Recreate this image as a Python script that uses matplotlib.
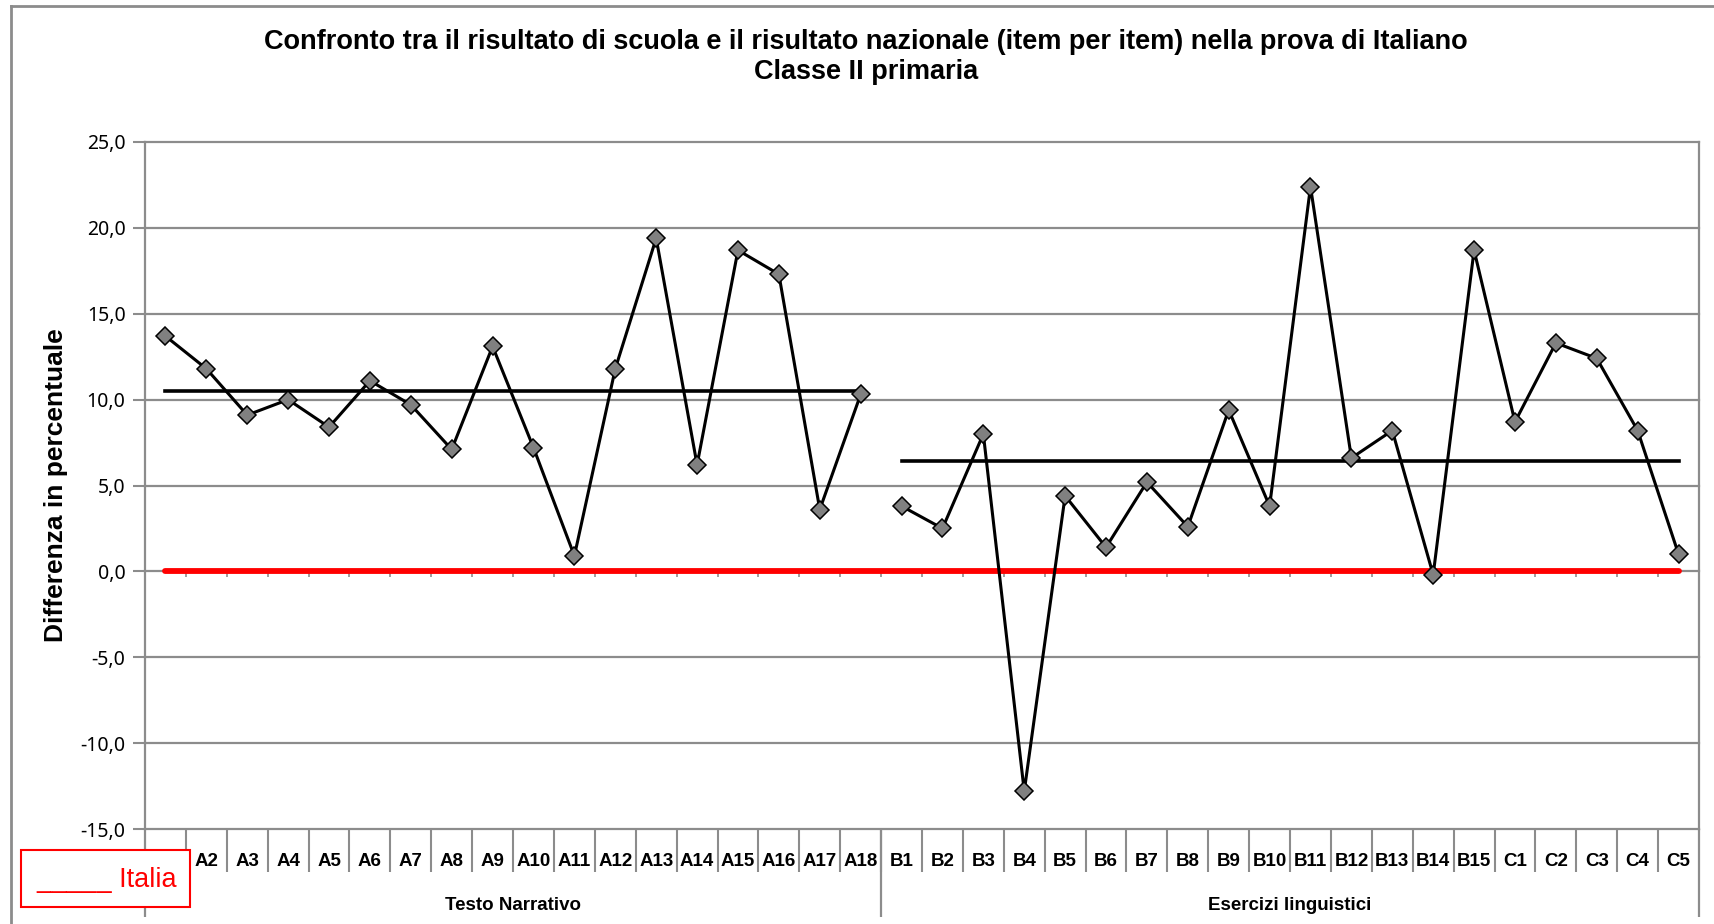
import matplotlib
matplotlib.use("Agg")
import matplotlib.pyplot as plt
from matplotlib.lines import Line2D
from matplotlib.patches import Rectangle
from matplotlib.ticker import FuncFormatter

# ─── DATA ─────────────────────────────────────────────────────────────────────
ITEMS_A = ["A1", "A2", "A3", "A4", "A5", "A6", "A7", "A8", "A9", "A10",
           "A11", "A12", "A13", "A14", "A15", "A16", "A17", "A18"]
ITEMS_B = ["B1", "B2", "B3", "B4", "B5", "B6", "B7", "B8", "B9", "B10",
           "B11", "B12", "B13", "B14", "B15", "C1", "C2", "C3", "C4", "C5"]
GROUPS = ["Testo Narrativo", "Esercizi linguistici"]

scuola_a = [13.7, 11.8, 9.1, 10.0, 8.4, 11.1, 9.7, 7.1, 13.1, 7.2,
            0.9, 11.8, 19.4, 6.2, 18.7, 17.3, 3.6, 10.3]
scuola_b = [3.8, 2.5, 8.0, -12.8, 4.4, 1.4, 5.2, 2.6, 9.4, 3.8,
            22.4, 6.6, 8.2, -0.2, 18.7, 8.7, 13.3, 12.4, 8.2, 1.0]
media_a = 10.5   # media sezione Testo Narrativo
media_b = 6.4    # media sezione Esercizi linguistici
italia = [0.0] * (len(ITEMS_A) + len(ITEMS_B))

TITLE = ("Confronto tra il risultato di scuola e il risultato nazionale "
         "(item per item) nella prova di Italiano\nClasse II primaria")
YLABEL = "Differenza in percentuale"
Y_TICKS = [-15, -10, -5, 0, 5, 10, 15, 20, 25]
# ──────────────────────────────────────────────────────────────────────────────

W, H = 1715, 924
GRAY = "#8c8c8c"
NARROW = ["Liberation Sans Narrow", "Liberation Sans", "DejaVu Sans"]

fig = plt.figure(figsize=(W / 100, H / 100), dpi=100)
left, right, top, bottom = 145, 1699, 142, 829
ax = fig.add_axes([left / W, 1 - bottom / H, (right - left) / W, (bottom - top) / H])

items = ITEMS_A + ITEMS_B
n_a = len(ITEMS_A)
x_all = list(range(len(items)))
x_a = x_all[:n_a]
x_b = x_all[n_a:]

# grid lines
for yv in Y_TICKS:
    ax.axhline(yv, color=GRAY, lw=1.6, zorder=1, clip_on=False)

# Italia reference (red) and section means
ax.plot(x_all, italia, color="red", lw=4.2, solid_capstyle="round", zorder=3)
ax.plot([x_a[0], x_a[-1]], [media_a, media_a], color="black", lw=2.6, zorder=3)
ax.plot([x_b[0], x_b[-1]], [media_b, media_b], color="black", lw=2.6, zorder=3)

# school results
for xs, ys in ((x_a, scuola_a), (x_b, scuola_b)):
    ax.plot(xs, ys, color="black", lw=2.2, marker="D", ms=9,
            mfc="#808080", mec="black", mew=1.1, zorder=4)

ax.set_xlim(-0.5, len(items) - 0.5)
ax.set_ylim(-15, 25)
ax.set_yticks(Y_TICKS)
ax.yaxis.set_major_formatter(FuncFormatter(lambda v, _: f"{v:.1f}".replace(".", ",")))
ax.tick_params(axis="y", direction="out", length=9, width=1.5, color=GRAY,
               pad=5, labelsize=14)
for lab in ax.get_yticklabels():
    lab.set_family(["Noto Sans", "DejaVu Sans"])
ax.set_xticks([])
for side in ("top", "bottom"):
    ax.spines[side].set_visible(False)
for side in ("left", "right"):
    ax.spines[side].set_color(GRAY)
    ax.spines[side].set_linewidth(1.6)

ax.set_ylabel(YLABEL, fontsize=19, fontweight="bold", family="Liberation Sans")
ax.yaxis.set_label_coords(-(left - 68) / (right - left), 0.5)

# small ticks on the zero line between categories
bounds = [i + 0.5 for i in range(len(items) - 1)]
ax.vlines(bounds, -0.3, 0, color=GRAY, lw=1.2, zorder=2)

# category labels and dividers below the plot
axh = bottom - top
xt = ax.get_xaxis_transform()
for i, name in enumerate(items):
    ax.text(i, -32 / axh, name, transform=xt, ha="center", va="center",
            fontsize=13.5, fontweight="bold", family=NARROW, clip_on=False)
ax.vlines(bounds, -43 / axh, 0, transform=xt, color=GRAY, lw=1.5, clip_on=False)
ax.vlines([-0.5, n_a - 0.5, len(items) - 0.5], -88 / axh, 0, transform=xt,
          color=GRAY, lw=1.6, clip_on=False)
ax.text((n_a - 1) / 2, -76 / axh, GROUPS[0], transform=xt, ha="center", va="center",
        fontsize=13.5, fontweight="bold", family=NARROW, clip_on=False)
ax.text(n_a + (len(ITEMS_B) - 1) / 2, -76 / axh, GROUPS[1], transform=xt,
        ha="center", va="center", fontsize=13.5, fontweight="bold",
        family=NARROW, clip_on=False)

# title
fig.text(866 / W, 1 - 57 / H, TITLE, ha="center", va="center", fontsize=19.5,
         fontweight="bold", family=NARROW, linespacing=1.2)

# chart area border (top and left)
fig.add_artist(Line2D([11 / W, 1], [1 - 6 / H, 1 - 6 / H], color=GRAY, lw=2))
fig.add_artist(Line2D([11 / W, 11 / W], [0, 1 - 6 / H], color=GRAY, lw=2))

# legend box
fig.add_artist(Rectangle((21 / W, 1 - 907 / H), 169 / W, 57 / H,
                         transform=fig.transFigure, facecolor="white",
                         edgecolor="red", lw=1.5, zorder=5))
fig.text(36 / W, 1 - 880 / H, "_____ Italia", color="red", fontsize=19.5,
         family="Liberation Sans", ha="left", va="center", zorder=6)

plt.savefig("out.png", dpi=100)
